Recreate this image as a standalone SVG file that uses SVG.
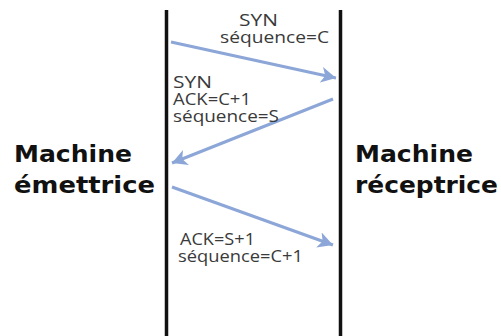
<svg xmlns="http://www.w3.org/2000/svg" width="501" height="336" viewBox="0 0 501 336">
  <style>
    .life { stroke: #111; stroke-width: 3.5; fill: none; }
    .msg { stroke: #8ca6d8; stroke-width: 3; fill: none; marker-end: url(#head); }
    .lbl { font-family: "Open Sans", "DejaVu Sans", sans-serif; font-size: 17px; fill: #3a3a3a; }
    .host { font-family: "DejaVu Sans", Verdana, sans-serif; font-size: 23px; font-weight: bold; fill: #111; }
  </style>
  <defs>
    <marker id="head" markerUnits="userSpaceOnUse" markerWidth="18" markerHeight="16" refX="15" refY="8" orient="auto">
      <path d="M0,0 L15,8 L0,16 L4,8 Z" fill="#8ca6d8"/>
    </marker>
  </defs>
  <rect width="501" height="336" fill="#fff"/>

  <g id="sender">
    <line class="life" x1="166.5" y1="10" x2="166.5" y2="336"/>
    <text class="host" x="14" y="162" textLength="118" lengthAdjust="spacingAndGlyphs">Machine</text>
    <text class="host" x="14" y="193" textLength="141" lengthAdjust="spacingAndGlyphs">émettrice</text>
  </g>

  <g id="receiver">
    <line class="life" x1="340.5" y1="10" x2="340.5" y2="336"/>
    <text class="host" x="355" y="162" textLength="118" lengthAdjust="spacingAndGlyphs">Machine</text>
    <text class="host" x="355" y="193" textLength="143" lengthAdjust="spacingAndGlyphs">réceptrice</text>
  </g>

  <g id="connectors">
    <line class="msg" x1="171" y1="42" x2="336" y2="78"/>
    <line class="msg" x1="333" y1="99" x2="172" y2="163"/>
    <line class="msg" x1="172" y1="187" x2="333" y2="245"/>
  </g>

  <g id="labels">
    <text class="lbl" x="239" y="26" textLength="39" lengthAdjust="spacingAndGlyphs">SYN</text>
    <text class="lbl" x="220" y="43" textLength="109" lengthAdjust="spacingAndGlyphs">séquence=C</text>

    <text class="lbl" x="173" y="88" textLength="39" lengthAdjust="spacingAndGlyphs">SYN</text>
    <text class="lbl" x="173" y="105" textLength="78" lengthAdjust="spacingAndGlyphs">ACK=C+1</text>
    <text class="lbl" x="173" y="122" textLength="106" lengthAdjust="spacingAndGlyphs">séquence=S</text>

    <text class="lbl" x="180" y="245" textLength="75" lengthAdjust="spacingAndGlyphs">ACK=S+1</text>
    <text class="lbl" x="178" y="262" textLength="125" lengthAdjust="spacingAndGlyphs">séquence=C+1</text>
  </g>
</svg>
